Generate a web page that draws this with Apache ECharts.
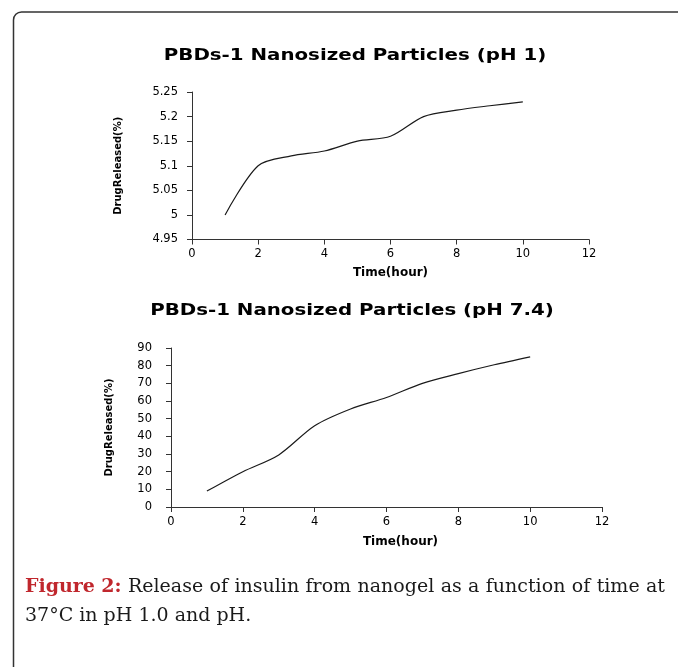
<!DOCTYPE html>
<html><head><meta charset="utf-8">
<script src="https://cdn.jsdelivr.net/npm/echarts@6/dist/echarts.min.js"></script>
<style>html,body{margin:0;padding:0;background:#fff}#c{width:678px;height:667px}</style>
</head><body><div id="c"></div>
<script>
// ---- data ----
const hours = [1, 2, 3, 4, 5, 6, 7, 8, 9, 10];
const releasePH1 = [5.00, 5.10, 5.12, 5.13, 5.15, 5.16, 5.20, 5.213, 5.222, 5.23];
const releasePH74 = [9, 20, 29.5, 46, 55.5, 62, 70, 75.5, 80.5, 85];
const timeTicks = [0, 2, 4, 6, 8, 10, 12];
const ph1Ticks = [4.95, 5.0, 5.05, 5.1, 5.15, 5.2, 5.25];
const ph74Ticks = [0, 10, 20, 30, 40, 50, 60, 70, 80, 90];
const titles = ['PBDs-1 Nanosized Particles (pH 1)', 'PBDs-1 Nanosized Particles (pH 7.4)'];
const xName = 'Time(hour)';
const yName = 'DrugReleased(%)';
const captionBold = 'Figure 2:';
const captionLine1 = 'Release of insulin from nanogel as a function of time at';
const captionLine2 = '37°C in pH 1.0 and pH.';

function step(t) { return +(t[1] - t[0]).toFixed(6); }

const sans = 'DejaVu Sans';
function xAxisCfg(gridIndex, nameGap, namePad) {
  return {
    type: 'value', gridIndex, min: timeTicks[0], max: timeTicks[timeTicks.length - 1], interval: step(timeTicks),
    axisLine: { show: true, onZero: false, lineStyle: { color: '#333', width: 1 } },
    axisTick: { show: true, length: 5, lineStyle: { color: '#333', width: 1 } },
    axisLabel: { margin: 9, color: '#000', fontFamily: sans, fontSize: 11.5 },
    splitLine: { show: false },
    name: xName, nameLocation: 'middle', nameGap,
    nameTextStyle: { fontFamily: sans, fontWeight: 'bold', fontSize: 12, color: '#000', padding: namePad }
  };
}
function yAxisCfg(gridIndex, ticks, margin, nameGap, namePad) {
  return {
    type: 'value', gridIndex, min: ticks[0], max: ticks[ticks.length - 1], interval: step(ticks),
    axisLine: { show: true, lineStyle: { color: '#333', width: 1 } },
    axisTick: { show: true, length: 5, lineStyle: { color: '#333', width: 1 } },
    axisLabel: { margin, color: '#000', fontFamily: sans, fontSize: 11.5 },
    splitLine: { show: false },
    name: yName, nameLocation: 'middle', nameGap,
    nameTextStyle: { fontFamily: sans, fontWeight: 'bold', fontSize: 10, color: '#000', padding: namePad }
  };
}

// caption layout (justified first line)
const serifPx = 19;
const fontBold = 'bold ' + serifPx + 'px "DejaVu Serif"';
const fontReg = serifPx + 'px "DejaVu Serif"';
const mctx = document.createElement('canvas').getContext('2d');
function w(t, f) { mctx.font = f; return mctx.measureText(t).width; }
const capLeft = 25, capRight = 665;
const tokens = captionBold.split(' ').map(t => ({ t, f: fontBold, c: '#c0272d' }))
  .concat(captionLine1.split(' ').map(t => ({ t, f: fontReg, c: '#1a1a1a' })));
let total = 0; tokens.forEach(k => { k.w = w(k.t, k.f); total += k.w; });
const gap = (capRight - capLeft - total) / (tokens.length - 1);
const captionEls = [];
let cx = capLeft;
tokens.forEach(k => {
  captionEls.push({ type: 'text', x: cx, y: 587, silent: true,
    style: { text: k.t, font: k.f, fill: k.c, align: 'left', verticalAlign: 'middle', textAlign: 'left', textVerticalAlign: 'middle' } });
  cx += k.w + gap;
});
captionEls.push({ type: 'text', x: capLeft, y: 616, silent: true,
  style: { text: captionLine2, font: fontReg, fill: '#1a1a1a', align: 'left', verticalAlign: 'middle', textAlign: 'left', textVerticalAlign: 'middle' } });

function titleEl(text, x, y) {
  return { type: 'text', x, y, scaleX: 1.2, silent: true,
    style: { text, font: 'bold 16.5px "DejaVu Sans"', fill: '#000', align: 'center', verticalAlign: 'middle', textAlign: 'center', textVerticalAlign: 'middle' } };
}

const chart = echarts.init(document.getElementById('c'), null, { renderer: 'canvas' });
chart.setOption({
  animation: false,
  backgroundColor: '#fff',
  grid: [
    { left: 192, right: 89, top: 92, bottom: 427.5 },
    { left: 171, right: 76, top: 348, bottom: 160 }
  ],
  xAxis: [xAxisCfg(0, 27, [0, 0, 0, 0]), xAxisCfg(1, 29, [0, 0, 0, 28])],
  yAxis: [yAxisCfg(0, ph1Ticks, 14, 69, [0, 0, 0, 0]), yAxisCfg(1, ph74Ticks, 19, 57, [0, 0, 0, 0])],
  series: [
    { type: 'line', xAxisIndex: 0, yAxisIndex: 0, data: hours.map((h, i) => [h, releasePH1[i]]),
      showSymbol: false, smooth: 0.3, silent: true,
      lineStyle: { color: '#1a1a1a', width: 1.2 } },
    { type: 'line', xAxisIndex: 1, yAxisIndex: 1, data: hours.map((h, i) => [h, releasePH74[i]]),
      showSymbol: false, smooth: 0.3, silent: true,
      lineStyle: { color: '#1a1a1a', width: 1.2 } }
  ],
  graphic: [
    { type: 'rect', silent: true, shape: { x: 13.5, y: 12, width: 800, height: 800, r: 8 },
      style: { fill: 'none', stroke: '#333', lineWidth: 1.5 } },
    titleEl(titles[0], 355, 56),
    titleEl(titles[1], 352, 311)
  ].concat(captionEls)
});
</script></body></html>
